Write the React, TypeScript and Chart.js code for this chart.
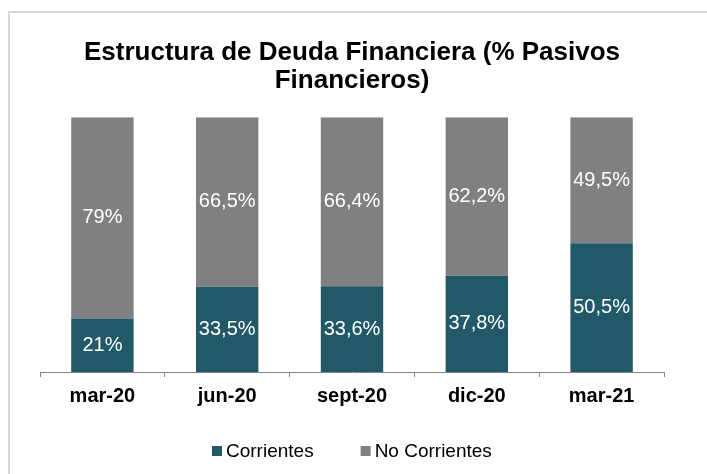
import React, { useEffect, useRef } from "react";
import { Chart, registerables } from "chart.js";

Chart.register(...registerables);

const categories = ["mar-20", "jun-20", "sept-20", "dic-20", "mar-21"];
const corrientes = [21, 33.5, 33.6, 37.8, 50.5];
const noCorrientes = [79, 66.5, 66.4, 62.2, 49.5];
const seriesNames = ["Corrientes", "No Corrientes"];
const seriesColors = ["#215968", "#808080"];
const titleLines = ["Estructura de Deuda Financiera (% Pasivos", "Financieros)"];

const FONT = "'Liberation Sans', Arial, Helvetica, sans-serif";

const fmt = (v: number) =>
  (Number.isInteger(v) ? String(v) : v.toFixed(1).replace(".", ",")) + "%";

const framePlugin = {
  id: "frame",
  beforeDraw(chart: any) {
    const ctx = chart.ctx;
    ctx.save();
    ctx.fillStyle = "#ffffff";
    ctx.fillRect(0, 0, chart.width, chart.height);
    ctx.fillStyle = "#d9d9d9";
    ctx.fillRect(8, 11, 2, chart.height - 11);
    ctx.fillRect(8, 11, chart.width - 8, 2);
    ctx.restore();
  },
};

const labelPlugin = {
  id: "segLabels",
  afterDatasetsDraw(chart: any) {
    const ctx = chart.ctx;
    ctx.save();
    ctx.fillStyle = "#ffffff";
    ctx.font = `20px ${FONT}`;
    ctx.textAlign = "center";
    ctx.textBaseline = "middle";
    chart.data.datasets.forEach((ds: any, di: number) => {
      const meta = chart.getDatasetMeta(di);
      meta.data.forEach((bar: any, i: number) => {
        const { x, y, base } = bar.getProps(["x", "y", "base"], true);
        ctx.fillText(fmt(ds.data[i]), x, (y + base) / 2);
      });
    });
    ctx.restore();
  },
};

const legendPlugin = {
  id: "customLegend",
  afterDraw(chart: any) {
    const ctx = chart.ctx;
    ctx.save();
    ctx.font = `19px ${FONT}`;
    ctx.textBaseline = "middle";
    ctx.textAlign = "left";
    const box = 10;
    const gapText = 4;
    const gapItems = 47;
    const items = chart.data.datasets.map((ds: any) => ({
      label: ds.label,
      color: ds.backgroundColor,
      w: box + gapText + ctx.measureText(ds.label).width,
    }));
    const total =
      items.reduce((s: number, it: any) => s + it.w, 0) + gapItems * (items.length - 1);
    let x = Math.round(chart.width / 2 - 2 - total / 2);
    const y = 451;
    items.forEach((it: any) => {
      ctx.fillStyle = it.color;
      ctx.fillRect(x, y - box / 2, box, box);
      ctx.fillStyle = "#000000";
      ctx.fillText(it.label, x + box + gapText, y + 1);
      x += it.w + gapItems;
    });
    ctx.restore();
  },
};

export default function App() {
  const ref = useRef<HTMLCanvasElement>(null);
  useEffect(() => {
    if (!ref.current) return;
    const chart = new Chart(ref.current, {
      type: "bar",
      data: {
        labels: categories,
        datasets: [
          {
            label: seriesNames[0],
            data: corrientes,
            backgroundColor: seriesColors[0],
            borderWidth: 0,
            categoryPercentage: 1,
            barPercentage: 0.5,
          },
          {
            label: seriesNames[1],
            data: noCorrientes,
            backgroundColor: seriesColors[1],
            borderWidth: 0,
            categoryPercentage: 1,
            barPercentage: 0.5,
          },
        ],
      },
      options: {
        responsive: false,
        animation: false,
        layout: { padding: { left: 40, right: 43, top: 0, bottom: 59 } },
        plugins: {
          title: {
            display: true,
            text: titleLines,
            color: "#000000",
            font: { family: FONT, size: 26, weight: "bold", lineHeight: 1.08 },
            padding: { top: 39, bottom: 22 },
          },
          legend: { display: false },
          tooltip: { enabled: false },
        },
        scales: {
          x: {
            stacked: true,
            grid: {
              display: true,
              drawOnChartArea: false,
              drawTicks: true,
              tickLength: 5,
              color: "#868686",
            },
            border: { display: true, color: "#868686" },
            ticks: {
              color: "#000000",
              font: { family: FONT, size: 20, weight: "bold" },
              padding: 7,
            },
          },
          y: {
            stacked: true,
            display: false,
            min: 0,
            max: 100,
          },
        },
      },
      plugins: [framePlugin, labelPlugin, legendPlugin],
    });
    return () => chart.destroy();
  }, []);
  return (
    <div style={{ position: "fixed", left: 0, top: 0, width: 707, height: 474 }}>
      <canvas ref={ref} width={707} height={474} />
    </div>
  );
}
